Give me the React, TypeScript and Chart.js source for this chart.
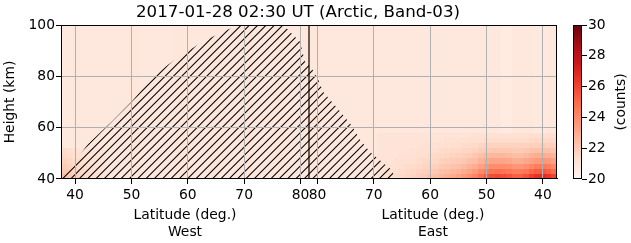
import React, { useEffect, useRef } from "react";
import { Chart, registerables } from "chart.js";

Chart.register(...registerables);

// ---------------- data ----------------
const TITLE = "2017-01-28 02:30 UT (Arctic, Band-03)";
const X_TITLE = "Latitude (deg.)";
const WEST_LABEL = "West";
const EAST_LABEL = "East";
const Y_TITLE = "Height (km)";
const CB_TITLE = "(counts)";

// Orbit track: latitude rises from LAT_START (west) to LAT_TURN, then falls back (east).
const LAT_START = 37.5;
const LAT_TURN = 81.5;
const HALF = LAT_TURN - LAT_START; // track units per half (1 unit = 1 deg.)
const TRACK_END = 2 * HALF;

const westTickLats = [40, 50, 60, 70, 80];
const eastTickLats = [80, 70, 60, 50, 40];
const heightTicks = [40, 60, 80, 100];
const colorTicks = [20, 22, 24, 26, 28, 30];
const V_MIN = 20;
const V_MAX = 30;
const H_MIN = 40;
const H_MAX = 100;

// Background counts: one value per 2-unit track column, whole height range
const baseColWidth = 2;
const baseValues = [
  20.7, 20.8, 20.85, 20.85, 20.8, 20.85, 20.9, 20.85, 20.8, 20.85, 20.9,
  20.85, 20.85, 20.9, 20.85, 20.85, 20.9, 20.85, 20.85, 20.9, 20.85, 20.9,
  20.9, 20.85, 20.85, 20.85, 20.85, 20.85, 20.85, 20.75, 20.85, 20.85, 20.85,
  20.8, 20.85, 20.85, 20.85, 20.8, 20.75, 20.6, 20.85, 20.8, 20.7, 20.85,
];

// Low-altitude enhancements: rows of 2 km starting at 40 km, columns of 1 track unit
const patchRowHeight = 2;
const patchColWidth = 1;
const westPatchStart = 0;
const westRows = [
  [22.4, 22.1, 21.8, 21.6, 21.4, 21.3, 21.2, 21.1],
  [22.1, 21.9, 21.7, 21.5, 21.35, 21.25, 21.15, 21.1],
  [21.9, 21.7, 21.5, 21.4, 21.3, 21.2, 21.1, 21.05],
  [21.7, 21.55, 21.4, 21.3, 21.2, 21.15, 21.1, 21.0],
  [21.5, 21.4, 21.3, 21.2, 21.1, 21.1, 21.05, 21.0],
  [21.35, 21.3, 21.2, 21.1, 21.05, 21.0, 21.0, 21.0],
];
const eastPatchStart = 56;
const eastRows = [
  [21.1, 21.2, 21.3, 21.4, 21.5, 21.6, 21.7, 21.9, 22.0, 22.2, 22.4, 22.6, 22.8, 23.0, 23.2, 23.5, 23.8, 24.2, 24.8, 25.4, 25.8, 25.9, 25.8, 25.6, 25.3, 25.3, 25.6, 26.2, 26.6, 26.8, 26.5, 26.0],
  [21.1, 21.2, 21.2, 21.3, 21.4, 21.5, 21.6, 21.7, 21.8, 21.9, 22.1, 22.3, 22.4, 22.6, 22.7, 23.0, 23.2, 23.5, 24.0, 24.4, 24.7, 24.8, 24.7, 24.6, 24.4, 24.4, 24.6, 25.1, 25.4, 25.5, 25.3, 24.9],
  [21.1, 21.1, 21.2, 21.2, 21.3, 21.4, 21.4, 21.5, 21.6, 21.7, 21.8, 22.0, 22.1, 22.2, 22.3, 22.5, 22.7, 22.9, 23.3, 23.6, 23.9, 23.9, 23.9, 23.8, 23.6, 23.6, 23.8, 24.1, 24.4, 24.5, 24.3, 24.0],
  [21.0, 21.1, 21.1, 21.2, 21.2, 21.3, 21.3, 21.4, 21.5, 21.5, 21.6, 21.7, 21.8, 21.9, 22.0, 22.1, 22.3, 22.4, 22.7, 23.0, 23.2, 23.2, 23.2, 23.1, 22.9, 22.9, 23.1, 23.3, 23.5, 23.6, 23.5, 23.3],
  [21.0, 21.1, 21.1, 21.1, 21.2, 21.2, 21.2, 21.3, 21.3, 21.4, 21.5, 21.5, 21.6, 21.7, 21.7, 21.8, 21.9, 22.1, 22.3, 22.5, 22.6, 22.6, 22.6, 22.5, 22.4, 22.4, 22.5, 22.7, 22.9, 22.9, 22.8, 22.7],
  [21.0, 21.0, 21.1, 21.1, 21.1, 21.1, 21.2, 21.2, 21.2, 21.3, 21.3, 21.4, 21.4, 21.5, 21.5, 21.6, 21.6, 21.7, 21.9, 22.0, 22.1, 22.1, 22.1, 22.1, 22.0, 22.0, 22.1, 22.2, 22.3, 22.3, 22.3, 22.2],
  [21.0, 21.0, 21.0, 21.1, 21.1, 21.1, 21.1, 21.1, 21.2, 21.2, 21.2, 21.2, 21.3, 21.3, 21.3, 21.4, 21.4, 21.5, 21.6, 21.7, 21.7, 21.7, 21.7, 21.7, 21.7, 21.7, 21.7, 21.8, 21.8, 21.9, 21.8, 21.8],
  [21.0, 21.0, 21.0, 21.0, 21.0, 21.1, 21.1, 21.1, 21.1, 21.1, 21.1, 21.1, 21.2, 21.2, 21.2, 21.2, 21.3, 21.3, 21.3, 21.4, 21.4, 21.4, 21.4, 21.4, 21.4, 21.4, 21.4, 21.5, 21.5, 21.5, 21.5, 21.5],
  [21.0, 21.0, 21.0, 21.0, 21.0, 21.0, 21.0, 21.0, 21.1, 21.1, 21.1, 21.1, 21.1, 21.1, 21.1, 21.1, 21.1, 21.2, 21.2, 21.2, 21.2, 21.2, 21.2, 21.2, 21.2, 21.2, 21.2, 21.3, 21.3, 21.3, 21.3, 21.3],
];

// Hatched region boundary (track units, km)
const hatchU = [0.1, 4.8, 9.0, 12.8, 16.3, 20.1, 25.1, 29.0, 31.6, 39.5, 40.6, 42.4, 43.3, 44.5, 45.7, 46.5, 49.8, 51.6, 53.1, 54.8, 56.9, 58.7, 59.3];
const hatchH = [40, 53.6, 62.3, 70.8, 79.9, 86.4, 93.5, 97.7, 100, 100, 97.4, 93.5, 85.7, 83.1, 78.6, 74.0, 65.6, 60.7, 55.2, 50.6, 46.7, 43.5, 40];

// ---------------- styling ----------------
const FONT = "'DejaVu Sans', sans-serif";
const TICK_SIZE = 13.89;
const TITLE_SIZE = 16.67;
const REDS = ["#fff5f0", "#fee0d2", "#fcbba1", "#fc9272", "#fb6a4a", "#ef3b2c", "#cb181d", "#a50f15", "#67000d"];
const GRID_COLOR = "#b0b0b0";

function hexToRgb(h: string) {
  return [parseInt(h.slice(1, 3), 16), parseInt(h.slice(3, 5), 16), parseInt(h.slice(5, 7), 16)];
}
const REDS_RGB = REDS.map(hexToRgb);
function colorFor(v: number) {
  let t = (v - V_MIN) / (V_MAX - V_MIN);
  t = Math.max(0, Math.min(1, t));
  const p = t * (REDS_RGB.length - 1);
  const i = Math.min(Math.floor(p), REDS_RGB.length - 2);
  const f = p - i;
  const a = REDS_RGB[i], b = REDS_RGB[i + 1];
  const c = a.map((x, k) => Math.round(x + (b[k] - x) * f));
  return `rgb(${c[0]},${c[1]},${c[2]})`;
}

const westTickPos = westTickLats.map((l) => l - LAT_START);
const eastTickPos = eastTickLats.map((l) => HALF + (LAT_TURN - l));
const xTickPos = [...westTickPos, ...eastTickPos];
const xTickLabels = [...westTickLats, ...eastTickLats].map(String);

function fillCell(ctx: CanvasRenderingContext2D, xs: any, ys: any, u0: number, u1: number, h0: number, h1: number, v: number) {
  const x0 = Math.round(xs.getPixelForValue(u0));
  const x1 = Math.round(xs.getPixelForValue(u1));
  const y0 = Math.round(ys.getPixelForValue(h0));
  const y1 = Math.round(ys.getPixelForValue(h1));
  ctx.fillStyle = colorFor(v);
  ctx.fillRect(x0, y1, x1 - x0, y0 - y1);
}

const heatmapPlugin = {
  id: "heatmap",
  beforeDraw(chart: any) {
    const { ctx, chartArea } = chart;
    const xs = chart.scales.x;
    const ys = chart.scales.y;
    ctx.save();
    ctx.beginPath();
    ctx.rect(chartArea.left, chartArea.top, chartArea.right - chartArea.left, chartArea.bottom - chartArea.top);
    ctx.clip();
    baseValues.forEach((v, i) => {
      fillCell(ctx, xs, ys, i * baseColWidth, (i + 1) * baseColWidth, H_MIN, H_MAX, v);
    });
    const drawPatch = (rows: number[][], start: number) => {
      rows.forEach((row, r) => {
        row.forEach((v, c) => {
          const u0 = start + c * patchColWidth;
          const h0 = H_MIN + r * patchRowHeight;
          fillCell(ctx, xs, ys, u0, u0 + patchColWidth, h0, h0 + patchRowHeight, v);
        });
      });
    };
    drawPatch(westRows, westPatchStart);
    drawPatch(eastRows, eastPatchStart);

    // hatched region
    ctx.beginPath();
    hatchU.forEach((u, i) => {
      const x = xs.getPixelForValue(u);
      const y = ys.getPixelForValue(hatchH[i]);
      if (i === 0) ctx.moveTo(x, y);
      else ctx.lineTo(x, y);
    });
    ctx.closePath();
    ctx.clip();
    ctx.strokeStyle = "#000";
    ctx.lineWidth = 1.05;
    ctx.beginPath();
    const spacing = 8.333;
    const phase = 241.3;
    for (let c = phase - spacing * 40; c < 1000; c += spacing) {
      ctx.moveTo(c, 0);
      ctx.lineTo(c - 400, 400);
    }
    ctx.stroke();
    ctx.restore();
  },
  afterDraw(chart: any) {
    const { ctx, chartArea } = chart;
    const xs = chart.scales.x;
    ctx.save();
    ctx.strokeStyle = "#000";
    ctx.lineWidth = 1;
    ctx.strokeRect(
      Math.round(chartArea.left) + 0.5,
      Math.round(chartArea.top) + 0.5,
      Math.round(chartArea.right - chartArea.left) - 1,
      Math.round(chartArea.bottom - chartArea.top) - 1
    );
    ctx.fillStyle = "#000";
    ctx.font = `${TICK_SIZE}px ${FONT}`;
    ctx.textAlign = "center";
    ctx.textBaseline = "middle";
    const wx = xs.getPixelForValue(HALF / 2);
    const ex = xs.getPixelForValue(HALF + HALF / 2);
    const y1 = chartArea.bottom + 36.5;
    const y2 = chartArea.bottom + 53;
    ctx.fillText(X_TITLE, wx, y1);
    ctx.fillText(WEST_LABEL, wx, y2);
    ctx.fillText(X_TITLE, ex, y1);
    ctx.fillText(EAST_LABEL, ex, y2);
    ctx.restore();
  },
};

const colorbarPlugin = {
  id: "cbframe",
  afterDraw(chart: any) {
    const { ctx, chartArea } = chart;
    ctx.save();
    ctx.strokeStyle = "#000";
    ctx.lineWidth = 1;
    ctx.strokeRect(
      Math.round(chartArea.left) + 0.5,
      Math.round(chartArea.top) + 0.5,
      Math.round(chartArea.right - chartArea.left) - 1,
      Math.round(chartArea.bottom - chartArea.top) - 1
    );
    ctx.fillStyle = "#000";
    ctx.font = `${TICK_SIZE}px ${FONT}`;
    ctx.textAlign = "center";
    ctx.textBaseline = "middle";
    ctx.translate(61, (chartArea.top + chartArea.bottom) / 2);
    ctx.rotate(-Math.PI / 2);
    ctx.fillText(CB_TITLE, 0, 0);
    ctx.restore();
  },
};

export default function App() {
  const mainRef = useRef<HTMLCanvasElement>(null);
  const cbRef = useRef<HTMLCanvasElement>(null);

  useEffect(() => {
    Chart.defaults.font.family = FONT;
    Chart.defaults.font.size = TICK_SIZE;
    Chart.defaults.color = "#000";

    const main = new Chart(mainRef.current as HTMLCanvasElement, {
      type: "line",
      data: {
        datasets: [
          {
            data: [
              { x: HALF, y: H_MIN },
              { x: HALF, y: H_MAX },
            ],
            borderColor: "#000",
            borderWidth: 1.2,
            pointRadius: 0,
            fill: false,
          },
        ],
      },
      options: {
        animation: false,
        responsive: false,
        devicePixelRatio: 1,
        layout: { padding: 0 },
        plugins: {
          legend: { display: false },
          tooltip: { enabled: false },
          title: {
            display: true,
            text: TITLE,
            color: "#000",
            font: { family: FONT, size: TITLE_SIZE, weight: "normal" },
            padding: { top: 2.5, bottom: 2.5 },
          },
        },
        scales: {
          x: {
            type: "linear",
            min: 0,
            max: TRACK_END,
            afterBuildTicks: (s: any) => {
              s.ticks = xTickPos.map((value) => ({ value }));
            },
            afterFit: (s: any) => {
              s.height = 64;
            },
            ticks: {
              autoSkip: false,
              maxRotation: 0,
              minRotation: 0,
              padding: 3,
              color: "#000",
              font: { family: FONT, size: TICK_SIZE },
              callback: (_v: any, i: number) => xTickLabels[i],
            },
            grid: { color: GRID_COLOR, lineWidth: 1, tickColor: "#000", tickLength: 5, tickWidth: 1 },
            border: { display: true, color: "#000", width: 1 },
          },
          y: {
            type: "linear",
            min: H_MIN,
            max: H_MAX,
            afterBuildTicks: (s: any) => {
              s.ticks = heightTicks.map((value) => ({ value }));
            },
            afterFit: (s: any) => {
              s.width = 61;
            },
            ticks: {
              padding: 1,
              color: "#000",
              font: { family: FONT, size: TICK_SIZE },
            },
            title: {
              display: true,
              text: Y_TITLE,
              color: "#000",
              font: { family: FONT, size: TICK_SIZE },
              padding: { top: 2, bottom: 0 },
            },
            grid: { color: GRID_COLOR, lineWidth: 1, tickColor: "#000", tickLength: 5, tickWidth: 1 },
            border: { display: true, color: "#000", width: 1 },
          },
          pad: {
            type: "linear",
            position: "right",
            display: true,
            afterFit: (s: any) => {
              s.width = 39;
            },
            ticks: { display: false },
            grid: { display: false, drawTicks: false },
            border: { display: false },
          },
        },
      } as any,
      plugins: [heatmapPlugin],
    });

    const cb = new Chart(cbRef.current as HTMLCanvasElement, {
      type: "bar",
      data: {
        labels: ["cb"],
        datasets: [
          {
            data: [[V_MIN, V_MAX]] as any,
            barPercentage: 1,
            categoryPercentage: 1,
            borderWidth: 0,
            backgroundColor: (c: any) => {
              const area = c.chart.chartArea;
              if (!area) return REDS[0];
              const g = c.chart.ctx.createLinearGradient(0, area.bottom, 0, area.top);
              REDS.forEach((col, i) => g.addColorStop(i / (REDS.length - 1), col));
              return g;
            },
          },
        ],
      },
      options: {
        animation: false,
        responsive: false,
        devicePixelRatio: 1,
        layout: { padding: { left: 13, top: 25, bottom: 64, right: 0 } },
        plugins: { legend: { display: false }, tooltip: { enabled: false }, title: { display: false } },
        scales: {
          x: { type: "category", display: false },
          y: {
            type: "linear",
            position: "right",
            min: V_MIN,
            max: V_MAX,
            afterBuildTicks: (s: any) => {
              s.ticks = colorTicks.map((value) => ({ value }));
            },
            afterFit: (s: any) => {
              s.width = 49;
            },
            ticks: { padding: 1, color: "#000", font: { family: FONT, size: TICK_SIZE } },
            grid: { drawOnChartArea: false, drawTicks: true, tickLength: 5, tickColor: "#000", tickWidth: 1 },
            border: { display: false },
          },
        },
      } as any,
      plugins: [colorbarPlugin],
    });

    return () => {
      main.destroy();
      cb.destroy();
    };
  }, []);

  return (
    <div style={{ position: "fixed", left: 0, top: 0, width: 631, height: 243, background: "#fff" }}>
      <canvas ref={mainRef} width={596} height={243} style={{ position: "absolute", left: 0, top: 0, width: 596, height: 243 }} />
      <canvas ref={cbRef} width={71} height={243} style={{ position: "absolute", left: 560, top: 0, width: 71, height: 243 }} />
    </div>
  );
}
